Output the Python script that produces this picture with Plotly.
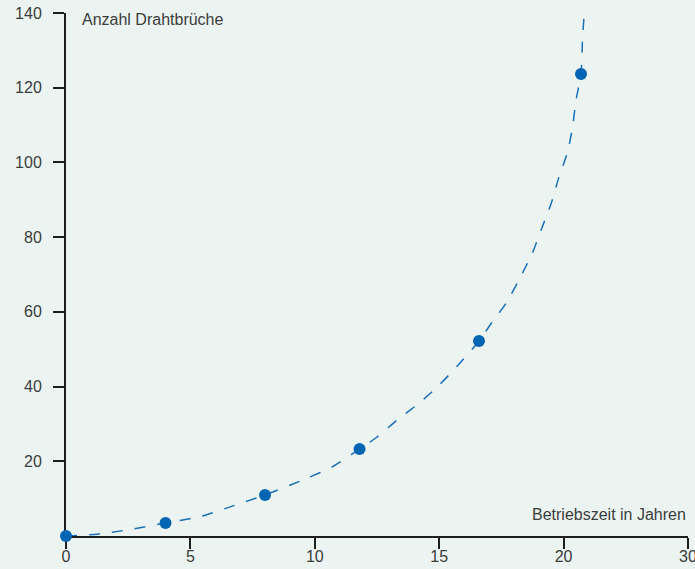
import plotly.graph_objects as go

# Measured data points (x in "axis units": 0..20 linear, 25 == label "30")
years = [0, 4.0, 8.0, 11.8, 16.6, 20.7]
breaks = [0, 3.5, 11.0, 23.3, 52.2, 123.7]

# Dashed trend curve
curve_x = [0, 1.25, 2.44, 4.0, 5.4, 6.6, 8.0, 9.7, 10.7, 11.8, 12.5, 13.3, 14.2,
           15.0, 15.7, 16.6, 17.1, 17.7, 18.2, 18.75, 19.1, 19.5, 19.8, 20.16,
           20.36, 20.5, 20.7, 20.76, 20.84]
curve_y = [0, 0.5, 1.6, 3.5, 5.2, 7.8, 11.0, 15.5, 18.5, 23.3, 26.5, 31.0, 35.6,
           40.4, 45.3, 52.2, 57.0, 62.4, 68.5, 75.8, 82.0, 89.0, 95.8, 102.8,
           109.5, 116.7, 123.7, 133.0, 141.0]

x_tickvals = [0, 5, 10, 15, 20, 25]
x_ticktext = ["0", "5", "10", "15", "20", "30"]
y_tickvals = [20, 40, 60, 80, 100, 120, 140]

bg = "#ebf4f1"
blue = "#0066b3"
axis_col = "#1e1e1e"
font = dict(family="Liberation Sans, Arial, Helvetica, sans-serif", size=16, color="#3c3c3c")

fig = go.Figure()
fig.add_trace(go.Scatter(
    x=curve_x, y=curve_y, mode="lines",
    line=dict(color="#1a6fb8", width=1.5, dash="11px,12px", shape="spline", smoothing=0.6),
    hoverinfo="skip", showlegend=False,
))
fig.add_trace(go.Scatter(
    x=years, y=breaks, mode="markers",
    marker=dict(color=blue, size=12),
    cliponaxis=False, showlegend=False,
))

fig.update_layout(
    width=695, height=569,
    margin=dict(l=66, r=7, t=13, b=33, autoexpand=False),
    paper_bgcolor=bg, plot_bgcolor=bg,
    font=font,
    xaxis=dict(
        range=[0, 25], tickvals=x_tickvals, ticktext=x_ticktext,
        showgrid=False, zeroline=False, showline=True, linecolor=axis_col, linewidth=2,
        ticks="outside", ticklen=11, tickwidth=1.5, tickcolor=axis_col,
        layer="below traces", ticklabelstandoff=-6, automargin=False,
        ticklabeloverflow="allow",
    ),
    yaxis=dict(
        range=[0, 140], tickvals=y_tickvals,
        showgrid=False, zeroline=False, showline=True, linecolor=axis_col, linewidth=2,
        ticks="outside", ticklen=11, tickwidth=1.5, tickcolor=axis_col,
        layer="below traces", ticklabelstandoff=8, automargin=False,
    ),
    annotations=[
        dict(text="Anzahl Drahtbrüche", xref="paper", yref="paper", x=0.022, y=1.0,
             xanchor="left", yanchor="middle", yshift=-6, showarrow=False, font=font),
        dict(text="Betriebszeit in Jahren", xref="paper", yref="paper", x=1.0, y=0.0,
             xanchor="right", yanchor="bottom", yshift=11, showarrow=False, font=font),
    ],
)

fig.write_html(
    "out.html",
    config={"displayModeBar": False},
    post_script="document.body.style.margin='0';document.body.style.overflow='hidden';",
)
